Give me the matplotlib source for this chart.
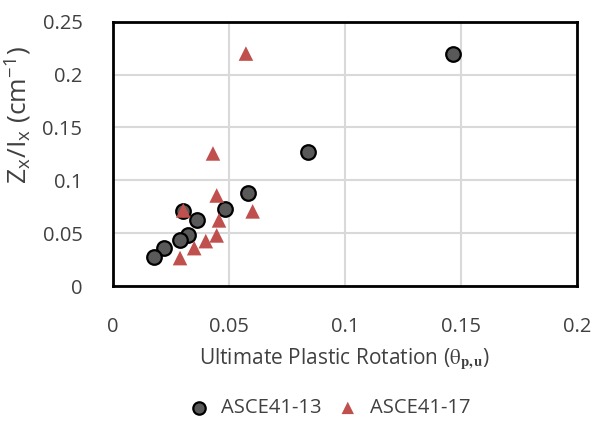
import numpy as np
import matplotlib.pyplot as plt

plt.rcParams['font.family'] = ['Open Sans', 'DejaVu Sans']
plt.rcParams['mathtext.fontset'] = 'stix'

# ASCE41-13 (circles)
rot_13 = [0.1466, 0.0841, 0.0582, 0.0483, 0.0302, 0.0362, 0.0323, 0.0289, 0.0220, 0.0177]
zi_13 = [0.2198, 0.1264, 0.0877, 0.0726, 0.0708, 0.0623, 0.0481, 0.0434, 0.0358, 0.0274]

# ASCE41-17 (triangles)
rot_17 = [0.0573, 0.0431, 0.0447, 0.0303, 0.0602, 0.0457, 0.0447, 0.0400, 0.0350, 0.0289]
zi_17 = [0.2198, 0.1255, 0.0858, 0.0717, 0.0708, 0.0623, 0.0481, 0.0427, 0.0361, 0.0267]

xticks = [0, 0.05, 0.1, 0.15, 0.2]
xtick_labels = ['0', '0.05', '0.1', '0.15', '0.2']
yticks = [0, 0.05, 0.1, 0.15, 0.2, 0.25]
ytick_labels = ['0', '0.05', '0.1', '0.15', '0.2', '0.25']

fig = plt.figure(figsize=(6.01, 4.23), dpi=100)
ax = fig.add_axes([0.188, 0.323, 0.772, 0.626])

ax.scatter(rot_13, zi_13, s=110, marker='o', facecolor='#595959', edgecolor='black',
           linewidth=1.6, label='ASCE41-13', zorder=3)
ax.scatter(rot_17, zi_17, s=110, marker='^', facecolor='#C0504D', edgecolor='none',
           label='ASCE41-17', zorder=3)

ax.set_xlim(0, 0.2)
ax.set_ylim(0, 0.25)
ax.set_xticks(xticks)
ax.set_xticklabels(xtick_labels)
ax.set_yticks(yticks)
ax.set_yticklabels(ytick_labels)
ax.tick_params(length=0, labelsize=14.5, colors='#404040')
ax.tick_params(axis='x', pad=22)
ax.tick_params(axis='y', pad=22)
ax.grid(True, color='#d9d9d9', linewidth=1.5)
ax.set_axisbelow(True)
for sp in ax.spines.values():
    sp.set_linewidth(2)
    sp.set_color('black')

ax.set_xlabel(r'Ultimate Plastic Rotation ($\mathrm{\theta}_{\mathbf{p,u}}$)', fontsize=15, color='#404040')
ax.xaxis.set_label_coords(0.5, -0.225)
ax.set_ylabel(r'Z$_\mathregular{x}$/I$_\mathregular{x}$ (cm$^\mathregular{-1}$)', fontsize=19, color='#404040')
ax.yaxis.set_label_coords(-0.172, 0.645)

fig.legend(loc='center', bbox_to_anchor=(0.54, 0.035), ncol=2, frameon=False,
           fontsize=14.5, handletextpad=0.1, columnspacing=0.3, labelcolor='#404040',
           markerscale=0.85)

plt.savefig('out.png', dpi=100)
